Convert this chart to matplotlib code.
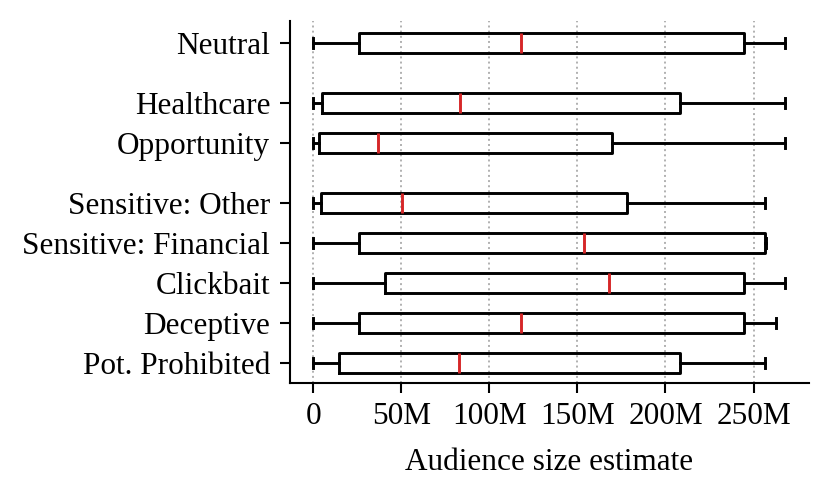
import matplotlib
matplotlib.use('Agg')
import matplotlib.pyplot as plt
from matplotlib.ticker import FuncFormatter

plt.rcParams['font.family'] = ['Liberation Serif', 'DejaVu Serif']

# box stats in millions
labels = ['Pot. Prohibited', 'Deceptive', 'Clickbait', 'Sensitive: Financial',
          'Sensitive: Other', 'Opportunity', 'Healthcare', 'Neutral']
positions = [0, 1, 2, 3, 4, 5.5, 6.5, 8]
whislo = [0, 0, 0, 0, 0, 0, 0, 0]
q1 = [14.4, 25.8, 40.9, 25.8, 4.4, 3.4, 4.9, 25.8]
med = [82.9, 117.9, 168.2, 153.9, 50.2, 36.9, 83.5, 117.9]
q3 = [208.2, 244.7, 244.7, 256.6, 178.1, 169.6, 208.2, 244.7]
whishi = [256.6, 262.8, 267.9, 256.8, 256.6, 267.9, 267.9, 267.9]

stats = []
for i in range(len(labels)):
    stats.append({'label': labels[i], 'whislo': whislo[i], 'q1': q1[i],
                  'med': med[i], 'q3': q3[i], 'whishi': whishi[i], 'fliers': []})

fig = plt.figure(figsize=(8.3, 4.97), dpi=100)
ax = fig.add_axes([0.349, 0.23, 0.9745 - 0.349, 0.958 - 0.23])

lw = 2.1
ax.bxp(stats, positions=positions, vert=False, widths=0.5, showfliers=False,
       boxprops=dict(color='black', linewidth=lw),
       whiskerprops=dict(color='black', linewidth=lw),
       capprops=dict(color='black', linewidth=lw),
       medianprops=dict(color='#d62728', linewidth=lw))

ax.set_xlim(-13.4, 281.4)
ax.set_ylim(-0.48, 8.55)
ax.set_xticks([0, 50, 100, 150, 200, 250])
ax.xaxis.set_major_formatter(FuncFormatter(lambda v, p: '0' if v == 0 else '%dM' % v))
ax.grid(axis='x', linestyle=':', color='#b0b0b0', linewidth=1.4)
ax.set_axisbelow(True)

ax.spines['top'].set_visible(False)
ax.spines['right'].set_visible(False)
for s in ['left', 'bottom']:
    ax.spines[s].set_linewidth(1.5)
ax.tick_params(axis='both', labelsize=22.5, width=1.5, length=7, pad=7)
ax.set_xlabel('Audience size estimate', fontsize=22.5, labelpad=12)

fig.savefig('out.png', dpi=100)
